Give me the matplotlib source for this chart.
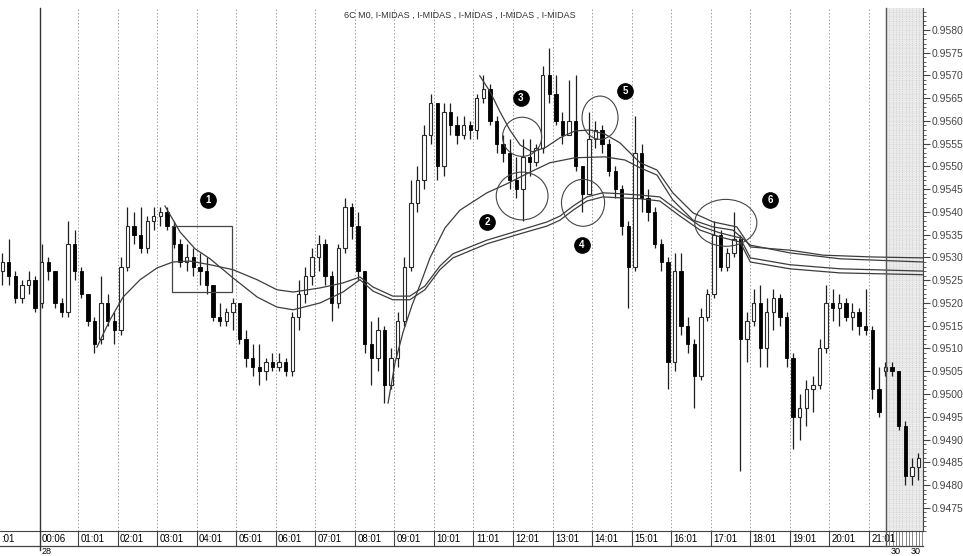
import numpy as np
import matplotlib
matplotlib.use("Agg")
import matplotlib.pyplot as plt
from matplotlib.patches import Ellipse, Rectangle

plt.rcParams['font.family'] = ['Liberation Sans', 'DejaVu Sans']

BASE = 0.95      # prices below are pips above 0.9500
PIP = 0.0001

# 10 minute bars, first one at 23:00 (day 27), x axis in hours from 23:01
opens = [27, 29, 26, 21, 24, 25, 20, 29, 27, 20, 18, 33, 27, 22, 16, 12, 20, 16, 14, 28,
         37, 35, 32, 38, 39, 40, 37, 33, 29, 30, 28, 27, 24, 17, 16, 18, 20, 12, 8, 6,
         5, 7, 6, 7, 5, 17, 22, 26, 30, 33, 26, 20, 32, 41, 37, 27, 11, 8, 14, 2,
         8, 16, 28, 42, 47, 57, 64, 50, 62, 59, 57, 59, 58, 65, 67, 60, 55, 53, 47, 45,
         52, 51, 54, 70, 66, 60, 57, 60, 50, 44, 56, 58, 55, 49, 45, 37, 28, 53, 43, 40,
         33, 29, 7, 27, 15, 11, 4, 17, 22, 35, 28, 31, 34, 12, 16, 20, 10, 18, 21, 17,
         8, -5, -3, 1, 2, 10, 20, 19, 20, 17, 18, 15, 14, 1, 5, 6, 5, -7, -18, -16]
highs = [31, 34, 27, 25, 27, 26, 33, 30, 27, 21, 38, 36, 28, 22, 17, 26, 22, 18, 30, 41,
         40, 41, 39, 41, 41, 41, 38, 34, 33, 32, 31, 30, 24, 20, 19, 21, 20, 14, 11, 11,
         8, 9, 9, 8, 18, 25, 28, 32, 35, 34, 27, 33, 43, 42, 40, 27, 16, 17, 15, 10,
         18, 30, 47, 50, 59, 66, 64, 64, 64, 61, 61, 60, 66, 70, 68, 61, 57, 56, 52, 56,
         56, 55, 72, 76, 70, 62, 69, 70, 50, 62, 60, 59, 56, 50, 46, 38, 61, 55, 45, 41,
         34, 30, 31, 31, 17, 12, 19, 23, 38, 36, 32, 40, 35, 18, 23, 24, 21, 23, 22, 18,
         9, 0, 3, 4, 12, 24, 23, 22, 21, 20, 19, 23, 15, 6, 7, 7, 5, -6, -14, -13]
lows = [24, 24, 20, 20, 22, 18, 19, 25, 19, 17, 17, 25, 21, 15, 9, 11, 15, 11, 13, 27,
        33, 31, 31, 36, 37, 36, 32, 28, 27, 26, 24, 22, 16, 15, 15, 14, 11, 6, 4, 2,
        3, 5, 5, 4, 4, 14, 20, 24, 27, 24, 16, 19, 31, 34, 25, 9, 2, 5, -2, 1,
        6, 15, 27, 40, 45, 55, 47, 48, 57, 55, 56, 56, 56, 64, 59, 53, 51, 45, 43, 38,
        48, 50, 53, 64, 59, 55, 57, 49, 40, 44, 54, 53, 48, 43, 35, 19, 27, 40, 38, 32,
        27, 1, 5, 13, 9, -3, 3, 16, 21, 27, 27, 30, -17, 7, 15, 6, 6, 14, 15, 6,
        -12, -10, -7, -4, 1, 9, 16, 15, 16, 14, 13, 13, -1, -5, 4, 4, -8, -20, -20, -19]
closes = [29, 26, 21, 24, 25, 19, 29, 27, 20, 18, 33, 27, 22, 16, 11, 20, 16, 14, 28, 37,
          35, 32, 38, 39, 40, 37, 33, 29, 30, 28, 27, 24, 17, 16, 18, 20, 12, 8, 6, 5,
          7, 6, 7, 5, 17, 22, 26, 30, 33, 26, 20, 32, 41, 37, 27, 11, 8, 14, 2, 8,
          16, 28, 42, 47, 57, 64, 50, 62, 59, 57, 59, 58, 65, 67, 60, 55, 53, 47, 45, 52,
          51, 54, 70, 66, 60, 57, 60, 50, 44, 56, 58, 55, 49, 45, 37, 28, 53, 43, 40, 33,
          29, 7, 27, 15, 11, 4, 17, 22, 35, 28, 31, 34, 12, 16, 20, 10, 18, 21, 17, 8,
          -5, -3, 1, 2, 10, 20, 19, 20, 17, 18, 15, 14, 1, -4, 6, 5, -7, -18, -16, -14]

# I-MIDAS curves (hour, pips)
midas_a_t = [2.48, 2.81, 3.14, 3.57, 4.00, 4.40, 4.83, 5.34, 5.92, 6.53, 7.03, 7.44, 8.12, 8.70,
             9.13, 9.46, 9.96, 10.39, 10.77, 11.15, 11.48, 12.34, 13.18, 13.86, 14.19, 14.52,
             14.87, 15.27, 15.70, 16.21, 16.71, 17.22, 17.73, 18.23, 18.74, 19.00, 20.00, 21.27, 23.37]
midas_a_p = [10.3, 16.3, 21.3, 25.1, 27.7, 29.0, 29.2, 28.4, 27.3, 25.1, 22.9, 22.4, 23.3, 24.4,
             25.7, 23.5, 21.5, 21.5, 23.7, 28.1, 30.8, 33.8, 36.0, 37.8, 39.1, 41.3,
             43.3, 44.2, 44.0, 43.7, 43.3, 40.0, 36.9, 35.4, 34.3, 29.9, 28.4, 27.5, 27.0]
midas_r1_t = [4.20, 4.58, 4.96, 5.34, 5.92, 6.53, 7.03, 7.44, 8.12, 8.70, 9.13, 9.46, 9.96, 10.39,
              10.77, 11.15, 11.48, 12.34, 13.18, 13.86, 14.19, 14.52, 14.87, 15.27, 15.70,
              16.21, 16.71, 17.22, 17.73, 18.23, 18.74, 19.00, 20.00, 21.27, 23.37]
midas_r1_p = [41.3, 35.6, 31.9, 29.7, 25.5, 21.3, 19.1, 18.5, 20.0, 22.4, 25.1, 22.6, 20.7, 20.7,
              22.9, 27.3, 29.9, 33.0, 35.2, 36.9, 38.2, 40.4, 42.4, 43.3, 43.1,
              42.9, 42.4, 39.1, 36.0, 34.5, 33.4, 29.0, 27.5, 26.6, 26.2]
midas_b_t = [9.84, 10.02, 10.22, 10.45, 10.65, 10.90, 11.28, 11.66, 12.34, 12.85, 13.35, 13.93,
             14.57, 15.32, 15.83, 16.21, 16.64, 17.04, 17.55, 18.06, 18.56, 19.00, 20.00, 21.27, 23.37]
midas_b_p = [-2.0, 7.0, 13.6, 19.6, 24.0, 29.9, 36.5, 40.4, 44.2, 46.2, 48.4, 50.8,
             51.9, 52.1, 51.4, 49.7, 48.1, 42.6, 38.2, 36.7, 36.0, 32.7, 31.0, 29.7, 29.0]
midas_r2_t = [12.16, 12.42, 12.67, 12.92, 13.18, 13.48, 13.81, 14.19, 14.57, 14.95, 15.32, 15.70,
              16.21, 16.64, 17.04, 17.55, 18.06, 18.66, 19.00, 20.00, 20.84, 22.10, 23.37]
midas_r2_p = [69.9, 66.4, 62.0, 58.0, 54.7, 53.2, 54.1, 56.3, 57.8, 58.0, 57.1, 55.2,
              50.8, 49.2, 44.2, 39.8, 37.8, 36.7, 32.3, 31.6, 30.5, 30.1, 29.9]

hour_labels = ['%02d:01' % h for h in range(1, 22)]
y_ticks = np.arange(-25, 81, 5)

# numbered markers (hour, pips) and the circles round the touches
marks = ['1', '2', '3', '4', '5', '6']
mark_t = [5.29, 12.34, 13.20, 14.74, 15.83, 19.50]
mark_p = [42.6, 37.8, 65.1, 32.7, 66.6, 42.6]
ring_t = [13.23, 13.23, 14.77, 15.20, 18.38]
ring_p = [43.5, 56.5, 42.0, 60.7, 37.6]
ring_w = [1.31, 0.99, 1.09, 0.91, 1.57]
ring_h = [10.5, 8.6, 10.3, 9.5, 10.3]


def px(p):
    return BASE + np.asarray(p, dtype=float) * PIP


fig = plt.figure(figsize=(9.63, 5.56), dpi=100)
ax = fig.add_axes([0, 25 / 556, 923 / 963, 523 / 556])
x0, x1 = 0.028, 23.366
ax.set_xlim(x0, x1)
ax.set_ylim(px(-30.1), px(84.8))

o, h, l, c = px(opens), px(highs), px(lows), px(closes)
t = (np.arange(len(closes)) + 0.5) / 6
up = c >= o
ax.vlines(t, l, h, color='#1e1e1e', lw=0.9, zorder=3)
ax.bar(t[up], (c - o)[up], bottom=o[up], width=0.085, facecolor='white',
       edgecolor='#2a2a2a', lw=0.8, zorder=4)
ax.bar(t[~up], (c - o)[~up], bottom=o[~up], width=0.085, color='black',
       edgecolor='black', lw=0.6, zorder=4)

for ct, cp in [(midas_a_t, midas_a_p), (midas_r1_t, midas_r1_p),
               (midas_b_t, midas_b_p), (midas_r2_t, midas_r2_p)]:
    ax.plot(ct, px(cp), color='#3c3c3c', lw=0.9, zorder=5)

# grid, day separator, shaded future area
ax.vlines(range(2, 23), px(-30.1), px(84.8), color='#a0a0a0', lw=0.7,
          linestyles=(0, (1.5, 2)), zorder=1)
day_sep = 1.04
shade0 = 22.43
ax.axvspan(shade0, x1, color='#ebebeb', zorder=0)
fine = np.arange(shade0 + 1 / 12, x1, 1 / 12)
ax.vlines(fine, px(-30.1), px(84.8), color='#bdbdbd', lw=0.5, linestyles=':', zorder=0)
ax.hlines(px(np.arange(-30, 85, 1)), shade0, x1, color='#d0d0d0', lw=0.4,
          linestyles=':', zorder=0)

xt = ax.get_xaxis_transform()
row = -15 / 523
ax.plot([day_sep, day_sep], [1, -19 / 523], transform=xt, color='#333', lw=1.0, clip_on=False, zorder=6)
ax.plot([shade0, shade0], [1, row], transform=xt, color='#555', lw=1.0, clip_on=False, zorder=6)
ax.plot([x0, x1], [row, row], transform=xt, color='#444', lw=0.9, clip_on=False)

# time labels in the strip under the chart
ax.text(0.06, row / 2, ':01', transform=xt, fontsize=7, ha='left', va='center')
ax.text(day_sep + 0.05, row / 2, '00:06', transform=xt, fontsize=7, ha='left', va='center')
ax.text(day_sep + 0.03, -16 / 523, '28', transform=xt, fontsize=6.5, ha='left', va='top')
for i, lab in enumerate(hour_labels):
    hx = i + 2
    ax.plot([hx, hx], [0, row], transform=xt, color='#444', lw=0.8, clip_on=False)
    ax.text(hx + 0.06, row / 2, lab, transform=xt, fontsize=7, ha='left', va='center')
for fx in fine:
    ax.plot([fx, fx], [0, row], transform=xt, color='#555', lw=0.5, clip_on=False)
for fx in [22.68, 23.19]:
    ax.text(fx, -16 / 523, '30', transform=xt, fontsize=6.5, ha='center', va='top')

# annotations
ax.add_patch(Rectangle((4.38, px(22.4)), 1.51, 14.5 * PIP, fill=False,
                       edgecolor='#444', lw=0.9, zorder=6))
for rt, rp, rw, rh in zip(ring_t, ring_p, ring_w, ring_h):
    ax.add_patch(Ellipse((rt, px(rp)), rw, rh * PIP, fill=False,
                         edgecolor='#444', lw=0.8, zorder=6))
for m, mt, mp in zip(marks, mark_t, mark_p):
    ax.plot(mt, px(mp), 'o', ms=11, color='black', zorder=7)
    ax.text(mt, px(mp), m, color='white', fontsize=7, fontweight='bold',
            ha='center', va='center', zorder=8)

# right price scale
ax.yaxis.tick_right()
ax.set_yticks(px(y_ticks))
ax.set_yticklabels(['%.4f' % v for v in px(y_ticks)])
ax.set_yticks(px(np.arange(-30, 85, 1)), minor=True)
ax.tick_params(axis='y', which='major', length=5, width=0.8, labelsize=7.5,
               labelcolor='#444', color='#444', pad=1)
ax.tick_params(axis='y', which='minor', length=2.5, width=0.6, color='#444')
ax.set_xticks([])
for s in ['top', 'left']:
    ax.spines[s].set_visible(False)
ax.spines['right'].set_color('#444')
ax.spines['bottom'].set_color('#444')

fig.text(460 / 963, 1 - 15 / 556, '6C M0, I-MIDAS , I-MIDAS , I-MIDAS , I-MIDAS , I-MIDAS',
         fontsize=6.5, color='#333', ha='center', va='center')

fig.savefig('out.png', dpi=100, facecolor='white')
